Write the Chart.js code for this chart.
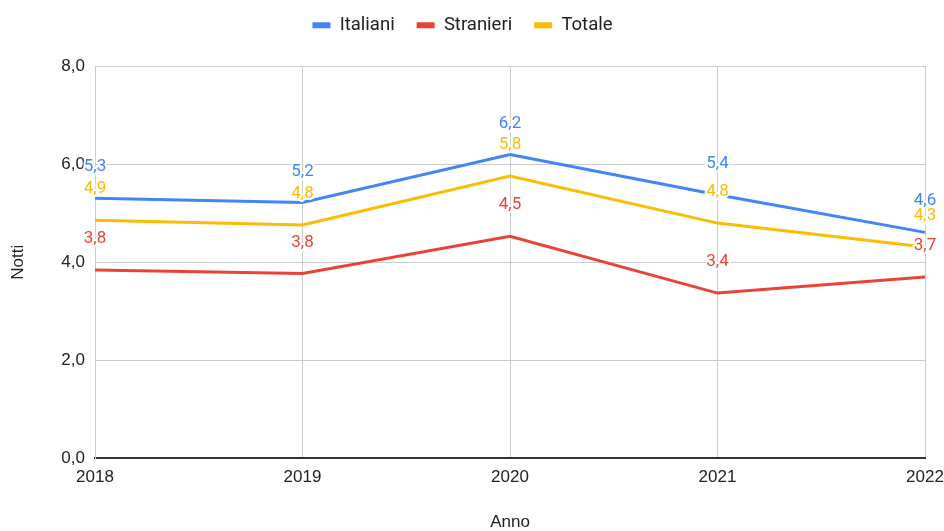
<!DOCTYPE html>
<html>
<head>
<meta charset="utf-8">
<script src="https://cdn.jsdelivr.net/npm/chart.js@4.4.0/dist/chart.umd.min.js"></script>
<style>
  html, body { margin: 0; padding: 0; background: #fff; }
  #contenitore { width: 944px; height: 531px; }
</style>
</head>
<body>
<div id="contenitore"><canvas id="graficoNotti"></canvas></div>
<script>
const anni = ["2018", "2019", "2020", "2021", "2022"];
const italiani = [5.31, 5.22, 6.2, 5.38, 4.61];
const stranieri = [3.84, 3.77, 4.53, 3.37, 3.7];
const totale = [4.86, 4.76, 5.76, 4.8, 4.31];

const BLU = "#4285F4";
const ROSSO = "#EA4335";
const GIALLO = "#FBBC04";

function formatta(v) {
  return v.toFixed(1).replace(".", ",");
}

// etichette dei valori sopra ogni punto, con alone bianco
const etichette = {
  id: "etichette",
  afterInit(chart) {
    // spazio extra sotto la legenda
    const leg = chart.legend;
    const fitOrig = leg.fit;
    leg.fit = function () {
      fitOrig.call(this);
      this.height += 22;
    };
  },
  afterDatasetsDraw(chart) {
    const ctx = chart.ctx;
    ctx.save();
    ctx.font = "17px Roboto, Arial, sans-serif";
    ctx.textAlign = "center";
    ctx.textBaseline = "alphabetic";
    ctx.lineJoin = "round";
    chart.data.datasets.forEach((ds, i) => {
      chart.getDatasetMeta(i).data.forEach((pt, j) => {
        const testo = formatta(ds.data[j]);
        ctx.lineWidth = 4;
        ctx.strokeStyle = "#fff";
        ctx.strokeText(testo, pt.x, pt.y - 27);
        ctx.fillStyle = ds.borderColor;
        ctx.fillText(testo, pt.x, pt.y - 27);
      });
    });
    ctx.restore();
  },
};

const ctx = document.getElementById("graficoNotti").getContext("2d");

new Chart(ctx, {
  type: "line",
  data: {
    labels: anni,
    datasets: [
      { label: "Italiani", data: italiani, borderColor: BLU, backgroundColor: BLU },
      { label: "Stranieri", data: stranieri, borderColor: ROSSO, backgroundColor: ROSSO },
      { label: "Totale", data: totale, borderColor: GIALLO, backgroundColor: GIALLO },
    ],
  },
  options: {
    responsive: true,
    maintainAspectRatio: false,
    animation: false,
    elements: {
      line: { borderWidth: 3, tension: 0 },
      point: { radius: 0, hoverRadius: 0 },
    },
    layout: { padding: { top: -6, right: 19, bottom: 0, left: 0 } },
    scales: {
      x: {
        offset: false,
        grid: { color: "#cccccc", drawTicks: false },
        border: { color: "#333333", width: 2 },
        ticks: {
          color: "#222",
          padding: 9,
          maxRotation: 0,
          font: { family: "'Liberation Sans', Arial, sans-serif", size: 17 },
        },
        title: {
          display: true,
          text: "Anno",
          color: "#222",
          padding: { top: 0, bottom: 0 },
          font: { family: "'Liberation Sans', Arial, sans-serif", size: 17, lineHeight: 1 },
        },
        afterFit(s) {
          s.height = 73;
          s.paddingRight = 0;
        },
      },
      y: {
        min: 0,
        max: 8,
        grid: {
          color: (c) => (c.tick && c.tick.value === 0 ? "#333333" : "#cccccc"),
          drawTicks: false,
        },
        border: { color: "#cccccc" },
        ticks: {
          stepSize: 2,
          color: "#222",
          padding: 10,
          font: { family: "'Liberation Sans', Arial, sans-serif", size: 17 },
          callback: (v) => formatta(v),
        },
        title: {
          display: true,
          text: "Notti",
          color: "#222",
          padding: { top: 10, bottom: 0 },
          font: { family: "'Liberation Sans', Arial, sans-serif", size: 17, lineHeight: 1 },
        },
        afterFit(s) {
          s.width = 95;
        },
      },
    },
    plugins: {
      legend: {
        position: "top",
        labels: {
          color: "#222",
          boxWidth: 18,
          boxHeight: 6,
          padding: 22,
          font: { family: "Roboto, Arial, sans-serif", size: 18.5 },
          generateLabels(chart) {
            const voci = Chart.defaults.plugins.legend.labels.generateLabels(chart);
            voci.forEach((v) => { v.lineWidth = 0; });
            return voci;
          },
        },
      },
      tooltip: { enabled: false },
    },
  },
  plugins: [etichette],
});
</script>
</body>
</html>
